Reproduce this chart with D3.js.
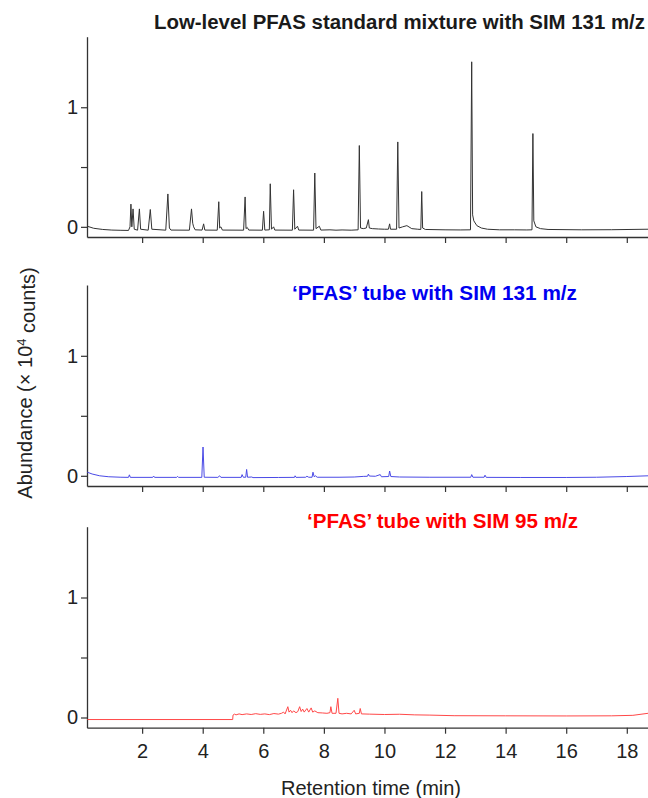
<!DOCTYPE html>
<html>
<head>
<meta charset="utf-8">
<script src="https://cdn.jsdelivr.net/npm/d3@7"></script>
<style>
  body { margin: 0; background: #fff; }
  svg { display: block; }
</style>
</head>
<body>
<div id="chart"></div>
<script>
// retention time (min), abundance (x 10^4 counts)
const standard131 = [
  [0.19,0.005],[0.4,-0.012],[0.7,-0.022],[1.0,-0.027],[1.3,-0.029],[1.55,-0.03],[1.6,0.0],[1.63,0.19],[1.66,0.0],
  [1.7,0.15],[1.74,-0.02],[1.85,-0.028],[1.91,0.15],[1.95,-0.02],[2.2,-0.028],[2.27,0.145],[2.32,-0.02],
  [2.78,-0.028],[2.85,0.275],[2.9,-0.01],[2.95,-0.027],[3.56,-0.028],[3.63,0.15],[3.67,0.03],[3.7,0.0],
  [3.75,-0.025],[3.98,-0.027],[4.03,0.025],[4.07,-0.027],[4.48,-0.028],[4.53,0.21],[4.56,-0.01],[4.6,0.0],
  [4.65,-0.027],[5.35,-0.028],[5.40,0.25],[5.43,-0.015],[5.47,-0.005],[5.52,-0.027],[5.97,-0.028],[6.01,0.13],
  [6.05,-0.027],[6.20,-0.025],[6.23,0.36],[6.27,-0.02],[6.34,0.0],[6.38,-0.027],[6.96,-0.028],[7.00,0.31],
  [7.04,-0.02],[7.13,0.005],[7.17,-0.027],[7.66,-0.028],[7.70,0.45],[7.74,-0.015],[7.85,0.005],[7.9,-0.027],
  [8.2,-0.025],[8.4,-0.028],[8.6,-0.026],[8.9,-0.028],[9.13,-0.025],[9.17,0.68],[9.21,-0.01],[9.3,-0.015],
  [9.4,-0.01],[9.47,0.06],[9.5,-0.01],[9.6,-0.015],[9.8,-0.018],[10.0,-0.02],[10.13,-0.02],[10.17,0.025],
  [10.2,-0.02],[10.40,-0.02],[10.44,0.71],[10.48,-0.01],[10.6,0.0],[10.74,0.01],[10.9,-0.015],[11.1,-0.02],
  [11.2,-0.022],[11.23,0.295],[11.26,-0.01],[11.35,-0.022],[12.0,-0.025],[12.5,-0.026],[12.84,-0.025],
  [12.88,1.38],[12.91,0.1],[12.95,0.05],[13.05,0.01],[13.2,-0.01],[13.4,-0.02],[13.8,-0.025],[14.3,-0.025],
  [14.7,-0.026],[14.87,-0.025],[14.9,0.78],[14.93,0.05],[15.0,0.0],[15.15,-0.015],[15.4,-0.022],[16.5,-0.025],
  [17.5,-0.024],[18.7,-0.02]
];

const tube131 = [
  [0.19,0.03],[0.35,0.015],[0.6,0.0],[0.9,-0.008],[1.3,-0.012],[1.55,-0.013],[1.58,0.008],[1.61,-0.013],
  [2.35,-0.013],[2.38,-0.002],[2.41,-0.013],[3.14,-0.013],[3.17,-0.005],[3.2,-0.013],[3.97,-0.013],[4.01,0.24],
  [4.05,-0.012],[4.5,-0.013],[4.56,0.0],[4.6,-0.013],[5.27,-0.013],[5.30,0.01],[5.34,-0.012],[5.42,-0.012],
  [5.45,0.053],[5.48,-0.012],[5.62,-0.01],[5.66,-0.015],[6.5,-0.014],[7.03,-0.013],[7.05,0.0],[7.08,-0.013],
  [7.4,-0.012],[7.44,-0.004],[7.5,-0.012],[7.61,-0.012],[7.64,0.03],[7.68,-0.008],[7.72,0.0],[7.78,-0.012],
  [8.5,-0.012],[9.0,-0.01],[9.3,-0.005],[9.44,-0.004],[9.47,0.014],[9.5,-0.002],[9.7,-0.004],[9.86,0.01],
  [9.9,-0.008],[10.14,-0.006],[10.17,0.04],[10.21,-0.006],[10.5,-0.01],[11.5,-0.012],[12.85,-0.012],
  [12.88,0.01],[12.92,-0.012],[13.29,-0.012],[13.32,0.005],[13.36,-0.013],[14.5,-0.014],[16,-0.014],
  [17.0,-0.012],[18.0,-0.006],[18.7,0.0]
];

const tube95 = [
  [0.19,-0.017],[4.99,-0.017],[5.0,0.02],[5.05,0.028],[5.1,0.022],[5.2,0.03],[5.3,0.024],[5.45,0.03],
  [5.6,0.025],[5.75,0.032],[5.9,0.026],[6.05,0.03],[6.2,0.024],[6.35,0.033],[6.5,0.028],[6.6,0.035],
  [6.67,0.045],[6.72,0.03],[6.81,0.09],[6.85,0.045],[6.9,0.06],[6.95,0.04],[7.0,0.055],[7.08,0.04],
  [7.14,0.05],[7.20,0.09],[7.25,0.05],[7.3,0.07],[7.35,0.045],[7.44,0.075],[7.5,0.045],[7.58,0.08],
  [7.63,0.045],[7.7,0.055],[7.8,0.04],[7.95,0.038],[8.1,0.035],[8.2,0.04],[8.23,0.09],[8.27,0.035],
  [8.4,0.035],[8.46,0.16],[8.5,0.035],[8.6,0.03],[8.75,0.035],[8.9,0.03],[9.0,0.06],[9.05,0.03],
  [9.17,0.035],[9.2,0.075],[9.24,0.03],[9.5,0.028],[10,0.025],[10.5,0.027],[11,0.022],[11.5,0.02],
  [12.3,0.015],[14,0.014],[16,0.013],[17.5,0.014],[18.2,0.018],[18.7,0.035]
];

const titles = [
  "Low-level PFAS standard mixture with SIM 131 m/z",
  "\u2018PFAS\u2019 tube with SIM 131 m/z",
  "\u2018PFAS\u2019 tube with SIM 95 m/z"
];
const xTicks = [2, 4, 6, 8, 10, 12, 14, 16, 18];
const yTicks = [0, 0.5, 1];
const yLabelTicks = [0, 1];

const width = 648, height = 798;
const left = 87, right = 648;
const font = "Liberation Sans, Arial, sans-serif";
const panels = [
  { data: standard131, title: titles[0], top: 36.7, bottom: 237, line: "#333", titleColor: "#1a1a1a", titleX: 645, titleY: 29, titleW: 491 },
  { data: tube131, title: titles[1], top: 285, bottom: 486, line: "#4a4ae6", titleColor: "#0000f0", titleX: 577, titleY: 300, titleW: 285 },
  { data: tube95, title: titles[2], top: 526.7, bottom: 727.7, line: "#ff4848", titleColor: "#ff0000", titleX: 578, titleY: 528, titleW: 271 }
];

const svg = d3.select("#chart").append("svg")
  .attr("width", width)
  .attr("height", height);

const x = d3.scaleLinear().domain([0.18, 18.7]).range([left, right]);

panels.forEach((p, i) => {
  const y = d3.scaleLinear().domain([-0.085, 1.59]).range([p.bottom, p.top]);

  // x axis
  const xa = svg.append("g")
    .attr("transform", `translate(0,${p.bottom})`)
    .call(d3.axisBottom(x).tickValues(xTicks).tickSize(6).tickSizeOuter(0)
      .tickFormat(i === 2 ? d3.format("d") : ""));
  xa.select(".domain").attr("stroke", "#333").attr("stroke-width", 1.3);
  xa.selectAll(".tick line").attr("stroke", "#333").attr("stroke-width", 1.2);
  xa.selectAll("text")
    .attr("dy", "1.05em")
    .style("font-family", font)
    .style("font-size", "20px")
    .style("fill", "#222");

  // y axis
  const ya = svg.append("g")
    .attr("transform", `translate(${left},0)`)
    .call(d3.axisLeft(y).tickValues(yTicks).tickSize(6).tickSizeOuter(0)
      .tickFormat(d => yLabelTicks.includes(d) ? d3.format("d")(d) : ""));
  ya.select(".domain").attr("stroke", "#333").attr("stroke-width", 1.3);
  ya.selectAll(".tick line").attr("stroke", "#333").attr("stroke-width", 1.2);
  ya.selectAll("text")
    .attr("x", -9)
    .style("font-family", font)
    .style("font-size", "20px")
    .style("fill", "#222");

  const line = d3.line().x(d => x(d[0])).y(d => y(d[1]));
  svg.append("path")
    .datum(p.data)
    .attr("fill", "none")
    .attr("stroke", p.line)
    .attr("stroke-width", 1)
    .attr("stroke-linejoin", "round")
    .attr("d", line);

  svg.append("text")
    .attr("x", p.titleX)
    .attr("y", p.titleY)
    .attr("text-anchor", "end")
    .attr("textLength", p.titleW)
    .attr("lengthAdjust", "spacingAndGlyphs")
    .style("font-family", font)
    .style("font-weight", "bold")
    .style("font-size", "19.5px")
    .style("fill", p.titleColor)
    .text(p.title);
});

// axis titles
svg.append("text")
  .attr("x", 371)
  .attr("y", 795)
  .attr("text-anchor", "middle")
  .style("font-family", font)
  .style("font-size", "20px")
  .style("fill", "#222")
  .text("Retention time (min)");

const yt = svg.append("text")
  .attr("transform", "translate(32,383) rotate(-90)")
  .attr("text-anchor", "middle")
  .style("font-family", font)
  .style("font-size", "20px")
  .style("fill", "#222");
yt.append("tspan").text("Abundance (\u00d7 10");
yt.append("tspan").attr("dy", "-0.45em").style("font-size", "13px").text("4");
yt.append("tspan").attr("dy", "0.45em").text(" counts)");
</script>
</body>
</html>
